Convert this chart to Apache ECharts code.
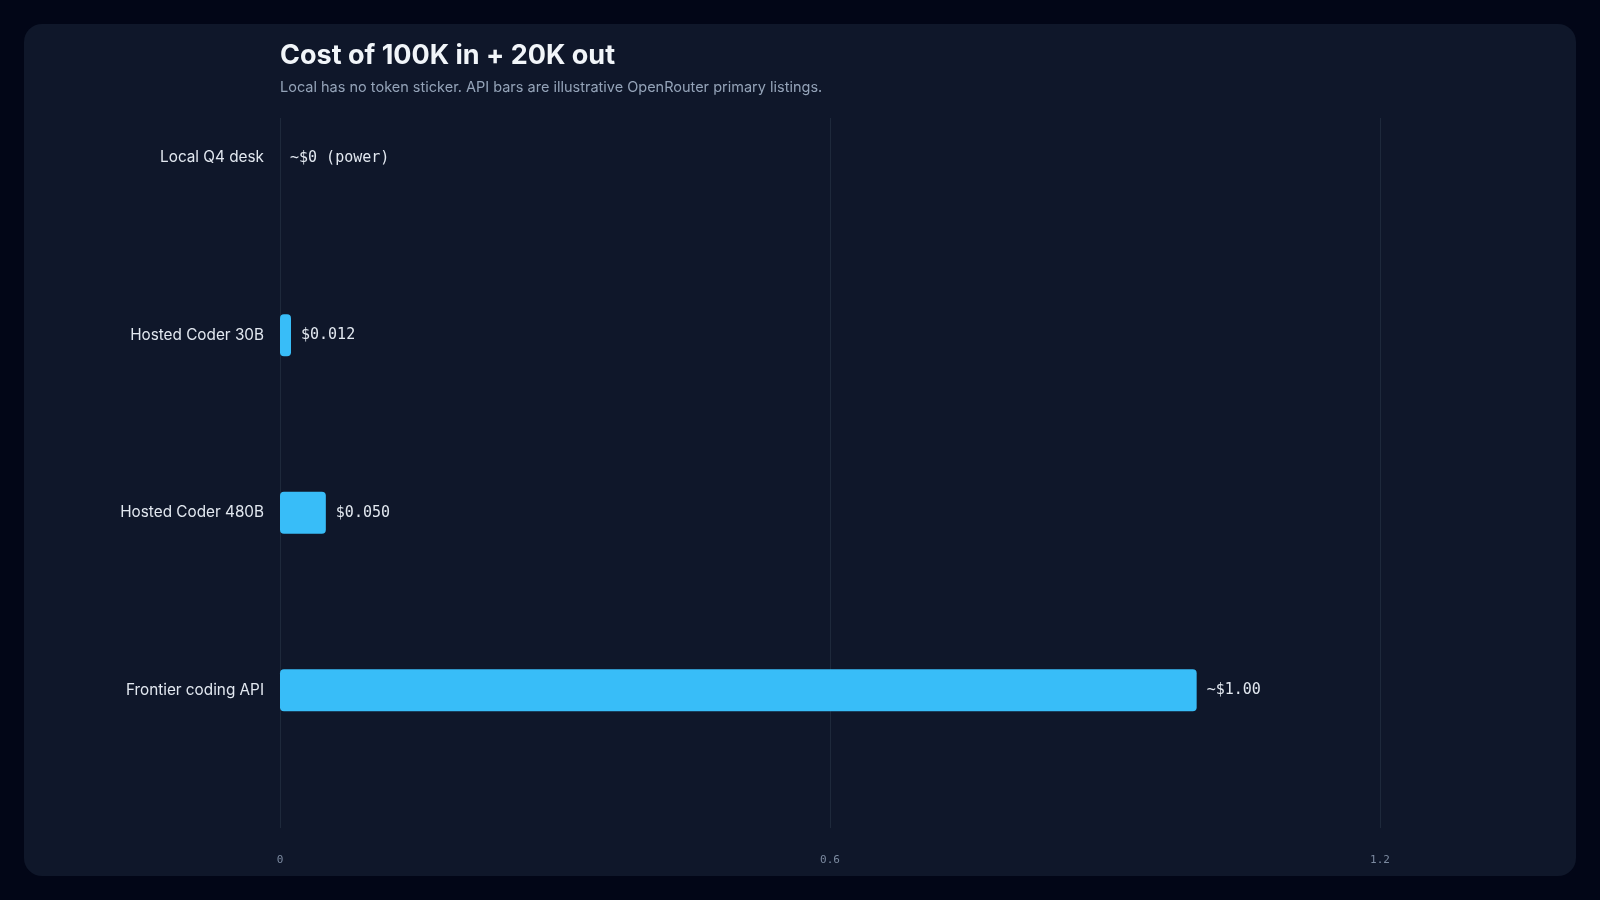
<!DOCTYPE html>
<html>
<head>
<meta charset="utf-8">
<script src="https://cdn.jsdelivr.net/npm/echarts@6/dist/echarts.min.js"></script>
<style>
  html, body { margin:0; padding:0; width:1600px; height:900px; background:#020617; overflow:hidden; }
  #card { position:absolute; left:24px; top:24px; width:1552px; height:852px; background:#0f172a; border-radius:18px; }
  #chart { position:absolute; left:0; top:0; width:1600px; height:900px; }
</style>
</head>
<body>
<div id="card"></div>
<div id="chart"></div>
<script>
const categories = ['Local Q4 desk', 'Hosted Coder 30B', 'Hosted Coder 480B', 'Frontier coding API'];
const costs = [0, 0.012, 0.05, 1.0];
const valueLabels = ['~$0 (power)', '$0.012', '$0.050', '~$1.00'];
const xTicks = [0, 0.6, 1.2];

const chart = echarts.init(document.getElementById('chart'), null, { renderer: 'canvas' });
const mono = '"DejaVu Sans Mono", "Liberation Mono", monospace';
const sans = 'Inter, "Noto Sans", sans-serif';

chart.setOption({
  backgroundColor: 'transparent',
  title: {
    text: 'Cost of 100K in + 20K out',
    subtext: 'Local has no token sticker. API bars are illustrative OpenRouter primary listings.',
    left: 275, top: 37,
    itemGap: 11,
    textStyle: { color: '#f1f5f9', fontSize: 27, fontWeight: 'bold', fontFamily: sans },
    subtextStyle: { color: '#94a3b8', fontSize: 14.5, fontFamily: sans }
  },
  grid: [
    { left: 280, width: 1100, top: 69, height: 710 },
    { left: 280, width: 1100, top: 118, height: 710 }
  ],
  xAxis: [
    { type: 'value', gridIndex: 0, min: 0, max: 1.2, interval: 0.6,
      axisLine: { show: false }, axisTick: { show: false }, axisLabel: { show: false }, splitLine: { show: false } },
    { type: 'value', gridIndex: 1, min: 0, max: 1.2, interval: 0.6,
      axisLine: { show: false }, axisTick: { show: false },
      axisLabel: { color: '#7c8aa0', fontSize: 11, fontFamily: mono, margin: 27,
        formatter: v => xTicks.includes(+v.toFixed(1)) ? String(+v.toFixed(1)) : '' },
      splitLine: { show: true, lineStyle: { color: '#1e293b', width: 1 } } }
  ],
  yAxis: [
    { type: 'category', gridIndex: 0, data: categories, inverse: true,
      axisLine: { show: false }, axisTick: { show: false },
      axisLabel: { color: '#e2e8f0', fontSize: 15.3, fontFamily: sans, margin: 16 } },
    { type: 'category', gridIndex: 1, data: categories, show: false }
  ],
  series: [{
    type: 'bar',
    xAxisIndex: 0, yAxisIndex: 0,
    data: costs,
    barWidth: 42,
    itemStyle: { color: '#38bdf8', borderRadius: 4 },
    label: {
      show: true, position: 'right', distance: 10,
      color: '#e2e8f0', fontSize: 15, fontFamily: mono,
      formatter: p => valueLabels[p.dataIndex]
    },
    silent: true
  }]
});
</script>
</body>
</html>
